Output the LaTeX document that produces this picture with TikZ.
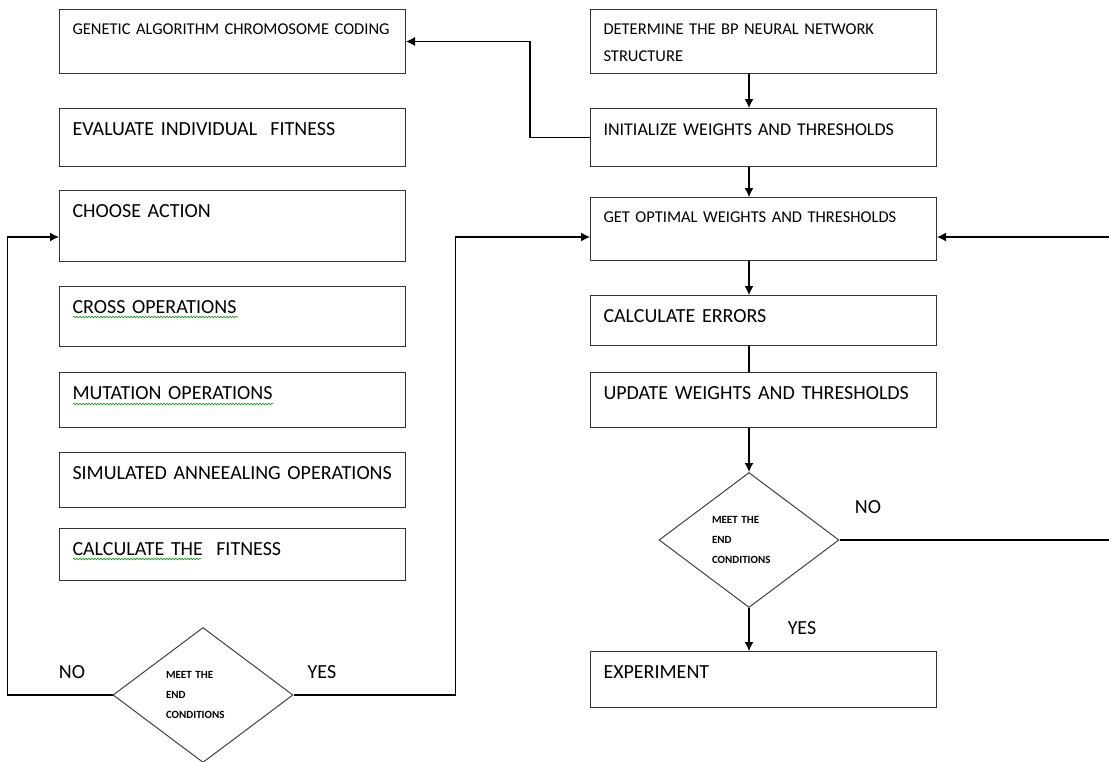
\documentclass[tikz,border=0pt]{standalone}
\usepackage{fontspec}
\setmainfont{Carlito}[WordSpace=0.75]
\usepackage{tikz}
\usetikzlibrary{shapes.geometric}
\usetikzlibrary{arrows.meta}
\usetikzlibrary{decorations.pathmorphing}
\tikzset{>={Latex[length=9pt,width=9pt]}}
\tikzset{
  flowbox/.style={draw=black!80, line width=1pt, anchor=north west,
    minimum width=346pt, text width=320pt, inner xsep=13pt, inner ysep=14pt,
    align=left, text height=13pt, font=\fontsize{20}{24}\selectfont},
  narrowtxt/.style={font=\fontsize{16.5}{20}\selectfont, text height=11pt},
  decision/.style={diamond, draw=black!75, line width=1pt, minimum width=180pt,
    minimum height=135pt, inner sep=0pt, text width=74pt, align=left,
    font=\fontsize{11}{20}\selectfont\bfseries},
  answer/.style={font=\fontsize{20}{24}\selectfont, inner sep=0pt},
  flowline/.style={line width=1.2pt},
  spellmark/.style={green!60!black, line width=0.6pt, decorate,
    decoration={snake, amplitude=0.8pt, segment length=3pt}}
}

\begin{document}
\begin{tikzpicture}[x=1pt,y=-1pt]
    \useasboundingbox (0,0) rectangle (1109,761);

    % genetic algorithm side
    \node [flowbox,narrowtxt,text depth=25pt] (ga1) at (59,9)
      {GENETIC ALGORITHM CHROMOSOME CODING};
    \node [flowbox,text depth=17pt] (ga2) at (59,108)
      {EVALUATE INDIVIDUAL\ \ FITNESS};
    \node [flowbox,text depth=30pt] (ga3) at (59,190) {CHOOSE ACTION};
    \node [flowbox,text depth=19pt] (ga4) at (59,286) {CROSS OPERATIONS};
    \node [flowbox,text depth=14pt] (ga5) at (59,372) {MUTATION OPERATIONS};
    \node [flowbox,text depth=14pt] (ga6) at (59,452)
      {SIMULATED ANNEEALING OPERATIONS};
    \node [flowbox,text depth=11pt] (ga7) at (59,528)
      {CALCULATE THE\ \ FITNESS};
    \node [decision] (gaend) at (203,695) {MEET THE\\END\\CONDITIONS};

    \draw [spellmark] ([shift={(14,31)}]ga4.north west) -- ++(165,0);
    \draw [spellmark] ([shift={(14,32)}]ga5.north west) -- ++(200,0);
    \draw [spellmark] ([shift={(14,31)}]ga7.north west) -- ++(128,0);

    % BP network side
    \node [flowbox,narrowtxt,font=\fontsize{16.5}{27}\selectfont,
      text depth=25pt] (bp1) at (590,9)
      {DETERMINE THE BP NEURAL NETWORK\\STRUCTURE};
    \node [flowbox,font=\fontsize{18}{22}\selectfont,text depth=17pt] (bp2)
      at (590,108) {INITIALIZE WEIGHTS AND THRESHOLDS};
    \node [flowbox,narrowtxt,text depth=24pt] (bp3) at (590,197)
      {GET OPTIMAL WEIGHTS AND THRESHOLDS};
    \node [flowbox,text depth=9pt] (bp4) at (590,295) {CALCULATE ERRORS};
    \node [flowbox,text depth=14pt] (bp5) at (590,372)
      {UPDATE WEIGHTS AND THRESHOLDS};
    \node [decision] (bpend) at (749,540) {MEET THE\\END\\CONDITIONS};
    \node [flowbox,text depth=15pt] (bp6) at (590,651) {EXPERIMENT};

    \node [answer] (gano) at (72,672) {NO};
    \node [answer] (gayes) at (322,672) {YES};
    \node [answer] (bpno) at (868,507) {NO};
    \node [answer] (bpyes) at (802,628) {YES};

    \draw [flowline,->] (bp1.south -| bpend.north) -- (bp2.north -| bpend.north);
    \draw [flowline,->] (bp2.south -| bpend.north) -- (bp3.north -| bpend.north);
    \draw [flowline,->] (bp3.south -| bpend.north) -- (bp4.north -| bpend.north);
    \draw [flowline] (bp4.south -| bpend.north) -- (bp5.north -| bpend.north);
    \draw [flowline,->] (bp5.south -| bpend.north) -- (bpend.north);
    \draw [flowline,->] (bpend.south) -- (bp6.north -| bpend.south);

    \draw [flowline,->] (bp2.west) -- ++(-60,0) |- (ga1.east);
    \draw [flowline,->] (gaend.west) -- ++(-105,0) |- ([yshift=-11pt]ga3.west);
    \draw [flowline,->] (gaend.east) -- ++(162,0) |- ([yshift=-8pt]bp3.west);
    \draw [flowline,->] (bpend.east) -- ++(271,0) |- ([yshift=-8pt]bp3.east);
\end{tikzpicture}
\end{document}
